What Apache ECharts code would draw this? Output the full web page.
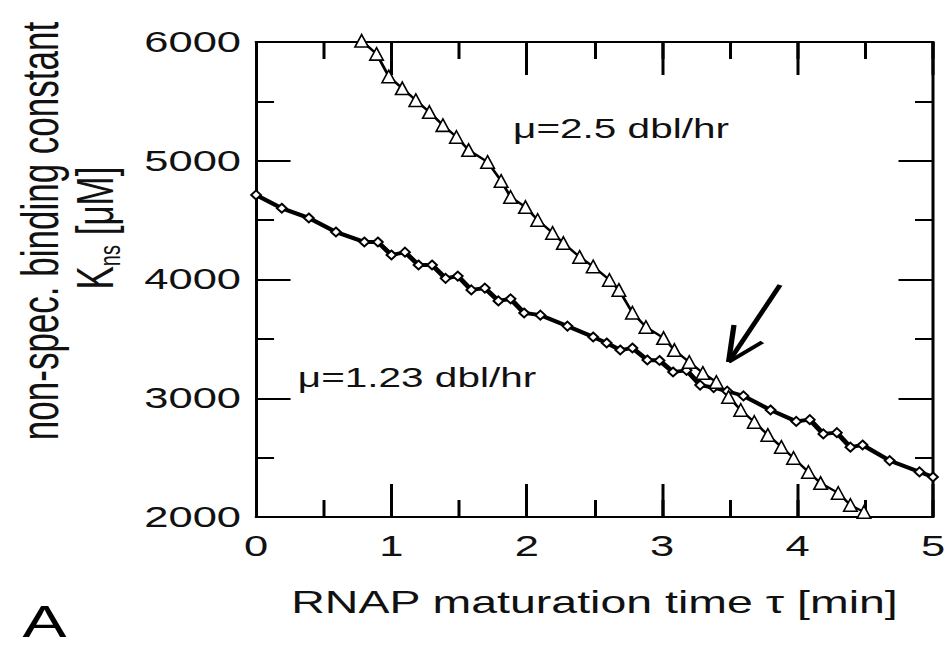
<!DOCTYPE html>
<html>
<head>
<meta charset="utf-8">
<script src="https://cdn.jsdelivr.net/npm/echarts@6/dist/echarts.min.js"></script>
<style>
html,body{margin:0;padding:0;background:#fff;overflow:hidden;width:951px;height:653px;}
#chart{width:634px;height:653px;transform:scaleX(1.5);transform-origin:0 0;}
</style>
</head>
<body>
<div id="chart"></div>
<script>
// ---- data ----
const diamondX = [0, 0.19, 0.39, 0.59, 0.80, 0.90, 1.00, 1.10, 1.20, 1.30, 1.40, 1.49, 1.59, 1.69, 1.79, 1.88, 1.98, 2.10, 2.30, 2.49, 2.59, 2.69, 2.78, 2.89, 2.98, 3.08, 3.18, 3.28, 3.38, 3.48, 3.60, 3.80, 3.99, 4.09, 4.19, 4.29, 4.39, 4.48, 4.68, 4.90, 5.00];
const diamondY = [4712, 4600, 4518, 4400, 4316, 4316, 4206, 4230, 4122, 4122, 4010, 4029, 3912, 3928, 3820, 3837, 3718, 3700, 3608, 3516, 3465, 3406, 3423, 3322, 3318, 3221, 3235, 3111, 3090, 3060, 3020, 2901, 2805, 2820, 2700, 2710, 2588, 2606, 2475, 2380, 2337];
const triX = [0.78, 0.89, 0.98, 1.08, 1.18, 1.28, 1.38, 1.48, 1.57, 1.71, 1.81, 1.88, 1.99, 2.08, 2.19, 2.27, 2.39, 2.49, 2.61, 2.68, 2.78, 2.88, 3.01, 3.09, 3.20, 3.30, 3.40, 3.49, 3.58, 3.68, 3.78, 3.88, 3.97, 4.08, 4.17, 4.30, 4.39, 4.49];
const triY = [6010, 5900, 5710, 5610, 5510, 5410, 5300, 5200, 5090, 4990, 4830, 4695, 4610, 4501, 4392, 4307, 4190, 4110, 3996, 3912, 3720, 3600, 3507, 3406, 3305, 3213, 3137, 3011, 2901, 2800, 2691, 2590, 2497, 2379, 2286, 2202, 2101, 2042];
const arrowTail = [3.87, 3954];
const arrowTip = [3.49, 3305];
const barbA = [3.53, 3617];
const barbB = [3.74, 3474];
const xRange = [0, 5];
const yRange = [2000, 6000];
const xMajorStep = 1, xMinorStep = 0.5;
const yMajorStep = 1000, yMinorStep = 500;
const labelHigh = 'μ=2.5 dbl/hr';
const labelLow = 'μ=1.23 dbl/hr';
const xTitle = 'RNAP maturation time τ [min]';
const yTitle1 = 'non-spec. binding constant';
const panelLetter = 'A';

const FONT = '"Liberation Sans", Arial, Helvetica, sans-serif';
const chart = echarts.init(document.getElementById('chart'), null, {renderer: 'svg'});

function makeAxis(isX, position, step, tickLen, showLabel, showLine) {
  return {
    type: 'value',
    position: position,
    min: isX ? xRange[0] : yRange[0],
    max: isX ? xRange[1] : yRange[1],
    interval: step,
    axisLine: {show: showLine, onZero: false, lineStyle: {color: '#000', width: 2}},
    axisTick: {show: true, inside: true, length: tickLen, lineStyle: {color: '#000', width: 2}},
    minorTick: {show: false},
    splitLine: {show: false},
    axisLabel: {show: showLabel, color: '#111', fontSize: 29, fontFamily: FONT, margin: isX ? 15 : 10,
      formatter: function (v) { return String(v); }}
  };
}

const pairs = (xs, ys) => xs.map((x, i) => [x, ys[i]]);

const xMain = makeAxis(true, 'bottom', xMajorStep, 33, true, true);
xMain.name = xTitle;
xMain.nameLocation = 'middle';
xMain.nameGap = 70;
xMain.nameTextStyle = {fontSize: 31, color: '#111', fontFamily: FONT};

chart.setOption({
  animation: false,
  backgroundColor: '#fff',
  grid: {left: 170.7, right: 12, top: 42, bottom: 136},
  xAxis: [
    xMain,
    makeAxis(true, 'bottom', xMinorStep, 17, false, false),
    makeAxis(true, 'top', xMajorStep, 33, false, true),
    makeAxis(true, 'top', xMinorStep, 17, false, false)
  ],
  yAxis: [
    makeAxis(false, 'left', yMajorStep, 23, true, true),
    makeAxis(false, 'left', yMinorStep, 12, false, false),
    makeAxis(false, 'right', yMajorStep, 23, false, true),
    makeAxis(false, 'right', yMinorStep, 12, false, false)
  ],
  series: [
    {
      type: 'line', name: 'mu123', xAxisIndex: 0, yAxisIndex: 0,
      data: pairs(diamondX, diamondY), clip: false,
      symbol: 'diamond', symbolSize: [6.5, 9], showAllSymbol: true,
      lineStyle: {color: '#000', width: 3.8},
      itemStyle: {color: '#fff', borderColor: '#000', borderWidth: 1.6}
    },
    {
      type: 'line', name: 'mu25', xAxisIndex: 0, yAxisIndex: 0,
      data: pairs(triX, triY), clip: false,
      symbol: 'triangle', symbolSize: [9, 12.5], showAllSymbol: true,
      lineStyle: {color: '#000', width: 2},
      itemStyle: {color: '#fff', borderColor: '#000', borderWidth: 1.3},
      markLine: {
        silent: true, symbol: 'none', animation: false,
        label: {show: false},
        lineStyle: {color: '#000', width: 3.5, type: 'solid'},
        data: [
          [{coord: arrowTail}, {coord: arrowTip}],
          [{coord: barbA}, {coord: arrowTip}],
          [{coord: barbB}, {coord: arrowTip}]
        ]
      }
    }
  ],
  graphic: [
    {type: 'text', x: 414, y: 129, style: {text: labelHigh, fontSize: 27, fontFamily: FONT, fill: '#111', align: 'center', verticalAlign: 'middle'}},
    {type: 'text', x: 278, y: 378, style: {text: labelLow, fontSize: 27, fontFamily: FONT, fill: '#111', align: 'center', verticalAlign: 'middle'}},
    {type: 'text', x: 15, y: 622, style: {text: panelLetter, fontSize: 44, fontFamily: FONT, fill: '#000', align: 'left', verticalAlign: 'middle'}},
    {type: 'text', x: 26.7, y: 231, rotation: Math.PI / 2, style: {text: yTitle1, fontSize: 35, fontFamily: FONT, fill: '#111', align: 'center', verticalAlign: 'middle'}},
    {type: 'text', x: 63, y: 228, rotation: Math.PI / 2, style: {
      text: '{k|K}{s|ns}{k| [μM]}', fontFamily: FONT, fill: '#111', align: 'center', verticalAlign: 'middle',
      rich: {k: {fontSize: 35, fontFamily: FONT, fill: '#111', lineHeight: 40, verticalAlign: 'middle'},
             s: {fontSize: 20, fontFamily: FONT, fill: '#111', lineHeight: 40, verticalAlign: 'bottom', padding: [16, 0, 0, 0]}}
    }}
  ]
});
</script>
</body>
</html>
